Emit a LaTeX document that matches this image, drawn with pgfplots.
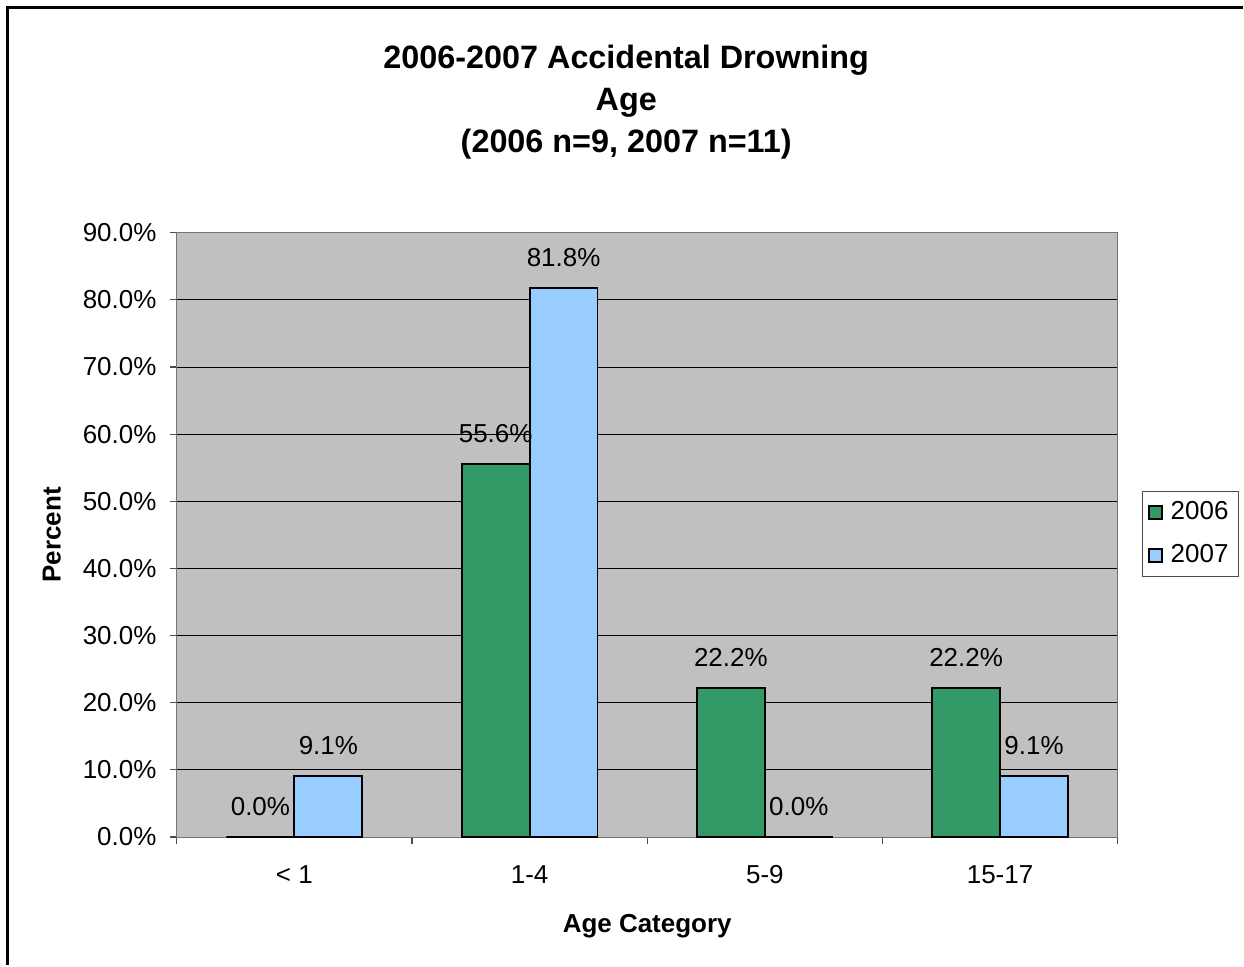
\documentclass[border=0pt]{standalone}
\usepackage{pgfplots}
\pgfplotsset{compat=1.18}
\usepackage{fontspec}
\setmainfont{Liberation Sans}

\definecolor{green06}{HTML}{339966}
\definecolor{blue07}{HTML}{99CCFF}
\definecolor{plotbg}{HTML}{C0C0C0}

\newcommand{\tickfont}{\fontsize{13}{15.6}\selectfont}

\begin{document}
\begin{tikzpicture}
  % canvas 1244x966 px at 0.5pt per px
  \path (0pt,0pt) rectangle (622pt,483pt);
  \draw[line width=1.5pt] (4pt,0pt) -- (4pt,479pt) -- (622pt,479pt);

  \begin{axis}[
      at={(88.5pt,64pt)}, anchor=south west,
      scale only axis,
      width=471pt, height=302.5pt,
      axis background/.style={fill=plotbg},
      axis line style={draw=black!55},
      ybar=0pt, bar width=34pt,
      xmin=-0.5, xmax=3.5,
      ymin=0, ymax=90,
      xtick pos=bottom, ytick pos=left,
      xtick={-0.5,0.5,1.5,2.5,3.5},
      xticklabels={},
      extra x ticks={0,1,2,3},
      extra x tick labels={\textless{} 1,1-4,5-9,15-17},
      extra x tick style={major tick length=0pt, grid=none,
        xticklabel style={anchor=center, yshift=-19pt}},
      ytick={0,10,...,90},
      yticklabel={\pgfmathprintnumber[fixed,fixed zerofill,precision=1]{\tick}\%},
      yticklabel style={anchor=east, inner sep=0pt, xshift=-6.5pt},
      tick align=outside,
      major tick length=3.5pt,
      tick style={black!70, semithick},
      ymajorgrids,
      grid style={black, thin},
      ticklabel style={font=\tickfont},
      /pgf/number format/assume math mode=true,
      xlabel={\textbf{Age Category}},
      ylabel={\textbf{Percent}},
      label style={font=\fontsize{13}{15.6}\selectfont},
      xlabel style={at={(axis description cs:0.5,0)}, anchor=center, yshift=-44.5pt},
      ylabel style={at={(axis description cs:-0.1327,0.5)}, anchor=center, rotate=0},
      nodes near coords={\pgfmathprintnumber[fixed,fixed zerofill,precision=1]{\pgfplotspointmeta}\%},
      every node near coord/.append style={font=\tickfont, anchor=center, yshift=15pt, text=black},
      clip=false,
      legend style={at={(1.0255,0.572)}, anchor=north west, draw=black!70,
        font=\tickfont, inner xsep=3pt, inner ysep=3pt, row sep=7pt, legend cell align=left},
      legend image code/.code={\draw[#1,draw=black,line width=0.8pt] (0pt,-3.25pt) rectangle (6.5pt,3.25pt);
        \path (8.5pt,0pt);},
    ]
    \addplot[fill=green06, draw=black, line width=0.9pt] coordinates {
      (0, 0.0) (1, 55.6) (2, 22.2) (3, 22.2)
    };
    \addlegendentry{2006}
    \addplot[fill=blue07, draw=black, line width=0.9pt] coordinates {
      (0, 9.1) (1, 81.8) (2, 0.0) (3, 9.1)
    };
    \addlegendentry{2007}
  \end{axis}

  \node[align=center, font=\bfseries\fontsize{16.2}{21}\selectfont] at (313.5pt,432pt)
    {2006-2007 Accidental Drowning\\Age\\(2006 n=9, 2007 n=11)};
\end{tikzpicture}
\end{document}
